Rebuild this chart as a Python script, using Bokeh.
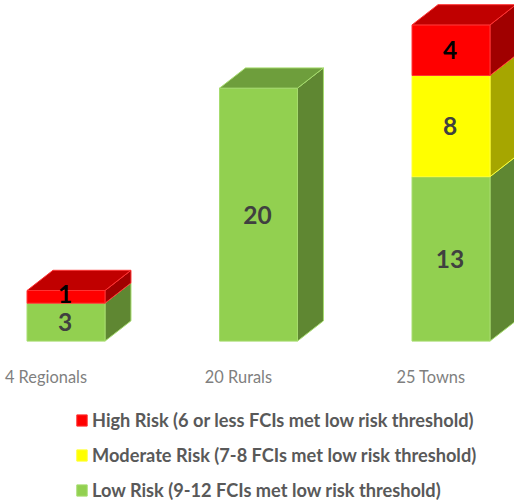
from bokeh.plotting import figure
from bokeh.models import Range1d, FixedTicker, Legend, LegendItem
from bokeh.core.properties import value
from bokeh.embed import file_html
from bokeh.resources import INLINE

categories = ["4 Regionals", "20 Rurals", "25 Towns"]
low = [3, 20, 13]
moderate = [0, 0, 8]
high = [1, 0, 4]
legend_labels = ["High Risk (6 or less FCIs met low risk threshold)",
                 "Moderate Risk (7-8 FCIs met low risk threshold)",
                 "Low Risk (9-12 FCIs met low risk threshold)"]

BAR_W = 0.405
DX = 0.135
DY = 1.6
LABEL_SHIFT = -0.104
SMALL_SEGMENT_NUDGE = 0.2
series = [
    (low, "#92D050", "#5F8732", "#6E9E3C", "#A6DC6E", "#404040"),
    (moderate, "#FFFF00", "#A6A600", "#BDBD00", "#FFFF33", "#404040"),
    (high, "#FF0000", "#A00000", "#C00000", "#FF3333", "#000000"),
]

p = figure(width=514, height=502, output_backend="svg", toolbar_location=None,
           x_range=Range1d(-0.3403, 2.3299), y_range=Range1d(-12.76, 26.93),
           min_border_left=0, min_border_right=0, min_border_top=0, min_border_bottom=0,
           outline_line_color=None, background_fill_color="white", border_fill_color="white")
p.styles = {"position": "absolute", "left": "0px", "top": "0px"}
p.grid.visible = False
p.yaxis.visible = False
ax = p.xaxis[0]
ax.fixed_location = 0
ticks = [i + LABEL_SHIFT for i in range(len(categories))]
ax.ticker = FixedTicker(ticks=ticks)
ax.major_label_overrides = {t: c for t, c in zip(ticks, categories)}
ax.axis_line_color = None
ax.major_tick_line_color = None
ax.minor_tick_line_color = None
ax.major_label_standoff = 20
ax.major_label_text_font = "Lato"
ax.major_label_text_font_size = "16.4px"
ax.major_label_text_color = "#7F7F7F"

bottoms = [0.0] * len(categories)
legend_rs = {}
labels = []
for vals, front, side, top, edge, txt in series:
    xs_s, ys_s, xs_f, ys_f = [], [], [], []
    for i, v in enumerate(vals):
        if v == 0:
            continue
        b, t = bottoms[i], bottoms[i] + v
        l, r = i - BAR_W / 2, i + BAR_W / 2
        xs_s.append([r, r + DX, r + DX, r])
        ys_s.append([b, b + DY, t + DY, t])
        xs_f.append([l, r, r, l])
        ys_f.append([b, b, t, t])
        nudge = SMALL_SEGMENT_NUDGE if v == 1 else 0
        labels.append((i, (b + t) / 2 + nudge, str(v), txt))
        bottoms[i] += v
    p.patches(xs_s, ys_s, fill_color=side, line_color=edge, line_width=1)
    legend_rs[front] = p.patches(xs_f, ys_f, fill_color=front, line_color=edge, line_width=1)

for i in range(len(categories)):
    for s in reversed(series):
        if s[0][i] > 0:
            l, r = i - BAR_W / 2, i + BAR_W / 2
            t = bottoms[i]
            p.patch([l, r, r + DX, l + DX], [t, t, t + DY, t + DY],
                    fill_color=s[3], line_color=s[4], line_width=1)
            break

for i, y, t, c in labels:
    p.text([i - 0.005], [y], text=[t], text_align="center", text_baseline="middle",
           text_font=value("Lato"), text_font_style="bold", text_font_size="24.5px", text_color=c)

items = [LegendItem(label=legend_labels[0], renderers=[legend_rs["#FF0000"]]),
         LegendItem(label=legend_labels[1], renderers=[legend_rs["#FFFF00"]]),
         LegendItem(label=legend_labels[2], renderers=[legend_rs["#92D050"]])]
legend = Legend(items=items, location=(75, 1), orientation="vertical",
                background_fill_alpha=0, border_line_color=None,
                padding=0, margin=0, spacing=13, glyph_width=13, glyph_height=14,
                label_standoff=4, label_text_font="Lato", label_text_font_style="bold",
                label_text_font_size="18.2px", label_text_color="#595959", label_height=17)
p.add_layout(legend)

open("out.html", "w").write(file_html(p, INLINE))
